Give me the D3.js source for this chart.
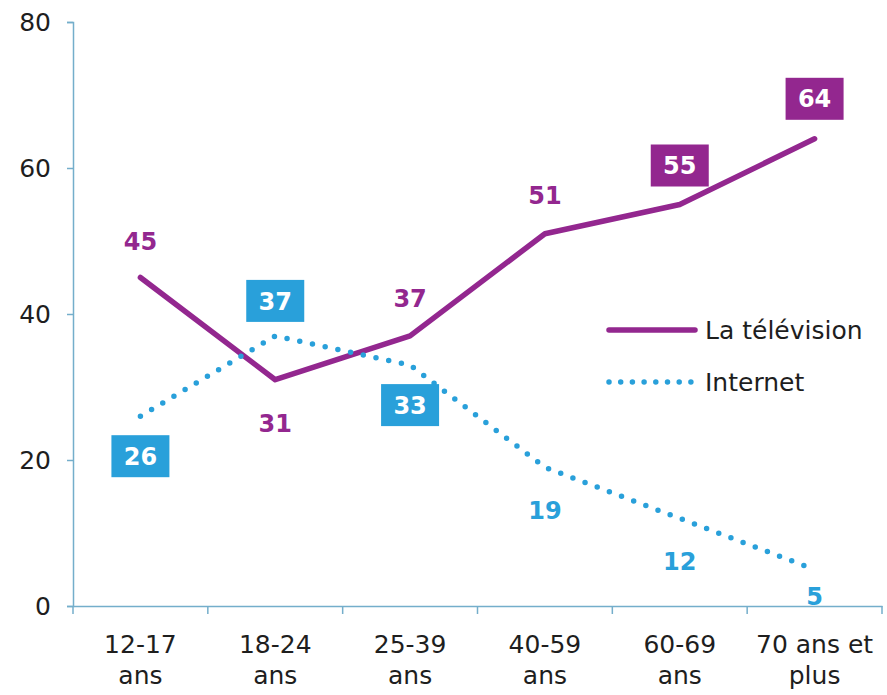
<!DOCTYPE html>
<html><head><meta charset="utf-8">
<script src="https://cdn.jsdelivr.net/npm/d3@7"></script>
<style>body{margin:0;background:#fff}</style>
</head><body>
<svg id="c" width="887" height="695"></svg>
<script>
const categories = [["12-17","ans"],["18-24","ans"],["25-39","ans"],["40-59","ans"],["60-69","ans"],["70 ans et","plus"]];
const television = [45,31,37,51,55,64];
const internet = [26,37,33,19,12,5];
const yTicks = [0,20,40,60,80];
const tvBoxed = [false,false,false,false,true,true];
const netBoxed = [true,true,true,false,false,false];
// label vertical offsets from the point (layout)
const tvOffset = [-36,44,-38,-38,-39,-40];
const netOffset = [40,-35,40,43,43,27];

const purple = "#93278F", blue = "#29A0DA", axisC = "#74AECB";
const svg = d3.select("#c");
const x = d3.scaleBand().domain(d3.range(6)).range([73, 882]);
const y = d3.scaleLinear().domain([0,80]).range([606, 22]);
const font = "DejaVu Sans, Verdana, sans-serif";

// y axis
const ya = svg.append("g").attr("transform","translate(73,0)")
  .call(d3.axisLeft(y).tickValues(yTicks).tickSize(6).tickPadding(16));
ya.select(".domain").attr("stroke",axisC).attr("stroke-width",1.5);
ya.selectAll(".tick line").attr("stroke",axisC).attr("stroke-width",1.5);
ya.selectAll(".tick text").attr("font-family",font).attr("font-size",25).attr("fill","#1e1e1e");

// x axis
const xa = svg.append("g").attr("transform",`translate(0,${y(0)})`)
  .call(d3.axisBottom(x).tickSize(0).tickFormat(""));
xa.select(".domain").attr("stroke",axisC).attr("stroke-width",1.5);
const bounds = d3.range(7).map(i => i<6 ? x(i) : x(5)+x.bandwidth());
xa.selectAll(".bt").data(bounds).enter().append("line")
  .attr("x1",d=>d).attr("x2",d=>d).attr("y1",0).attr("y2",8)
  .attr("stroke",axisC).attr("stroke-width",1.5);
const cx = i => x(i)+x.bandwidth()/2;
categories.forEach((c,i)=>{
  const t = svg.append("text").attr("x",cx(i)).attr("y",653).attr("text-anchor","middle")
    .attr("font-family",font).attr("font-size",25).attr("fill","#1e1e1e");
  t.append("tspan").attr("x",cx(i)).text(c[0]);
  t.append("tspan").attr("x",cx(i)).attr("dy",31).text(c[1]);
});

const line = d3.line().x((d,i)=>cx(i)).y(d=>y(d));
svg.append("path").datum(television).attr("d",line).attr("fill","none")
  .attr("stroke",purple).attr("stroke-width",5.5).attr("stroke-linejoin","round").attr("stroke-linecap","round");
svg.append("path").datum(internet).attr("d",line).attr("fill","none")
  .attr("stroke",blue).attr("stroke-width",5.5).attr("stroke-dasharray","0,13").attr("stroke-linecap","round");

function labels(vals, boxed, offs, color){
  vals.forEach((v,i)=>{
    const px = cx(i), ty = y(v) + offs[i];
    if(boxed[i]){
      svg.append("rect").attr("x",px-29).attr("y",ty-21).attr("width",58).attr("height",42).attr("fill",color);
    }
    svg.append("text").attr("x",px).attr("y",ty).attr("dy","0.36em").attr("text-anchor","middle")
      .attr("font-family",font).attr("font-weight","bold").attr("font-size",24)
      .attr("fill",boxed[i]?"#fff":color).text(v);
  });
}
labels(television, tvBoxed, tvOffset, purple);
labels(internet, netBoxed, netOffset, blue);

// legend
const lg = svg.append("g");
lg.append("line").attr("x1",609).attr("x2",695).attr("y1",330).attr("y2",330)
  .attr("stroke",purple).attr("stroke-width",5.5).attr("stroke-linecap","round");
lg.append("text").attr("x",705).attr("y",330).attr("dy","0.35em").attr("font-family",font)
  .attr("font-size",25).attr("fill","#1e1e1e").text("La télévision");
lg.append("line").attr("x1",609).attr("x2",695).attr("y1",382).attr("y2",382)
  .attr("stroke",blue).attr("stroke-width",5.5).attr("stroke-dasharray","0,11.7").attr("stroke-linecap","round");
lg.append("text").attr("x",705).attr("y",382).attr("dy","0.35em").attr("font-family",font)
  .attr("font-size",25).attr("fill","#1e1e1e").text("Internet");
</script>
</body></html>
